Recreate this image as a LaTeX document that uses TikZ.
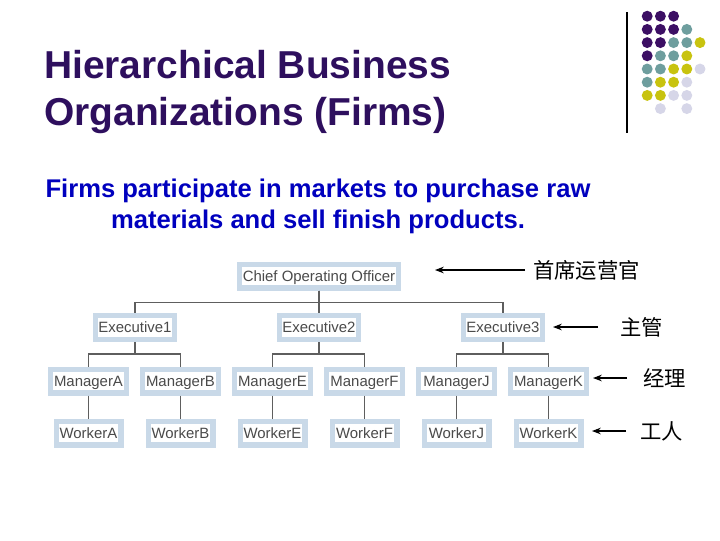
\documentclass[tikz,border=0pt]{standalone}
\usepackage{fontspec}
\setmainfont{Liberation Sans}
\newfontfamily\cjk{Noto Sans CJK SC}
\usetikzlibrary{arrows.meta,positioning}
\definecolor{boxblue}{HTML}{C9D9E8}
\definecolor{boxtext}{HTML}{4A4A4A}
\definecolor{linegray}{HTML}{5E5E5E}
\definecolor{bodyblue}{HTML}{0000BE}
\definecolor{titlepurple}{HTML}{2E0F5E}
\definecolor{dotP}{HTML}{3C0F64}
\definecolor{dotT}{HTML}{6E9E9E}
\definecolor{dotY}{HTML}{C8C30F}
\definecolor{dotL}{HTML}{D6D6E8}

\begin{document}
\begin{tikzpicture}[
    x=0.75pt, y=-0.75pt,
    >=Stealth,
    node distance = 17.25pt and 8.25pt,
    % --- node styles ---
    orgbox/.style = {rectangle, draw=boxblue, fill=white, line width=4pt,
                    text=boxtext, inner sep=0pt, align=center,
                    minimum height=17.75pt, text height=8.2pt, text depth=0.5pt,
                    font=\fontsize{11.2}{13}\selectfont},
    cooblock/.style = {orgbox, minimum width=119pt},
    execblock/.style = {orgbox, minimum width=59pt},
    mgrblock/.style = {orgbox, minimum width=56.75pt},
    wrkblock/.style = {orgbox, minimum width=48.5pt},
    conn/.style = {draw=linegray, line width=1pt},
    pointer/.style = {->, black, line width=0.8pt},
    rolelbl/.style = {inner sep=0pt, font=\cjk\fontsize{16}{18}\selectfont},
]
\useasboundingbox (0,0) rectangle (720,540);

%============ HEADING ============
\node (title) [anchor=north west, inner sep=0pt, align=left, text=titlepurple,
       font=\bfseries\fontsize{29.2}{35.25}\selectfont] at (44,50)
  {Hierarchical Business\\Organizations (Firms)};
\node (body) [anchor=north, inner sep=0pt, align=center, text=bodyblue,
       font=\bfseries\fontsize{19.2}{23.25}\selectfont] at (318,179)
  {Firms participate in markets to purchase raw\\materials and sell finish products.};

%============ CORNER DOTS ============
\draw[black, line width=0.8pt] (627,12) -- (627,133);
\foreach \c/\r/\col in {1/1/dotP,2/1/dotP,3/1/dotP,
    1/2/dotP,2/2/dotP,3/2/dotP,4/2/dotT,
    1/3/dotP,2/3/dotP,3/3/dotT,4/3/dotT,5/3/dotY,
    1/4/dotP,2/4/dotT,3/4/dotT,4/4/dotY,
    1/5/dotT,2/5/dotT,3/5/dotY,4/5/dotY,5/5/dotL,
    1/6/dotT,2/6/dotY,3/6/dotY,4/6/dotL,
    1/7/dotY,2/7/dotY,3/7/dotL,4/7/dotL,
    2/8/dotL,4/8/dotL}
  \fill[\col] ({634+13.2*\c},{3+13.2*\r}) circle (4.1pt);

%============ CHART ============
\node (coo) [cooblock] at (319,276) {Chief Operating Officer};

\node (exec2) [execblock] at (319,327.5) {Executive2};
\node (exec1) [execblock, left=75pt of exec2] {Executive1};
\node (exec3) [execblock, right=75pt of exec2] {Executive3};

% managers
\node (mgrA) [mgrblock] at (88.5,381) {ManagerA};
\node (mgrB) [mgrblock, right=of mgrA] {ManagerB};
\node (mgrE) [mgrblock, right=of mgrB] {ManagerE};
\node (mgrF) [mgrblock, right=of mgrE] {ManagerF};
\node (mgrJ) [mgrblock, right=of mgrF] {ManagerJ};
\node (mgrK) [mgrblock, right=of mgrJ] {ManagerK};

% workers
\foreach \w/\m in {A/A,B/B,E/E,F/F,J/J,K/K}
  \node (wrk\w) [wrkblock, below=of mgr\m] {Worker\w};

\foreach \e in {exec1,exec2,exec3}
  \draw[conn] (coo.south) -- ++(0,12) -| (\e.north);
\foreach \e/\m in {exec1/mgrA,exec1/mgrB,exec2/mgrE,exec2/mgrF,exec3/mgrJ,exec3/mgrK}
  \draw[conn] (\e.south) -- ++(0,12) -| (\m.north);
\foreach \w in {A,B,E,F,J,K}
  \draw[conn] (mgr\w) -- (wrk\w);

%============ ROLE LABELS ============
\node (lblcoo) [rolelbl, anchor=west] at (533,270) {首席运营官};
\node (lblexec) [rolelbl, anchor=west] at (620,327) {主管};
\node (lblmgr) [rolelbl, anchor=west] at (643,378) {经理};
\node (lblwrk) [rolelbl, anchor=west] at (640,431) {工人};

\coordinate (tipcoo) at (435,270);
\coordinate (tipexec) at (553,327);
\coordinate (tipmgr) at (593,378);
\coordinate (tipwrk) at (592,431);

\draw[pointer, shorten <=6pt] (lblcoo.west) -- (tipcoo);
\draw[pointer, shorten <=16.5pt] (lblexec.west) -- (tipexec);
\draw[pointer, shorten <=12pt] (lblmgr.west) -- (tipmgr);
\draw[pointer, shorten <=10.5pt] (lblwrk.west) -- (tipwrk);

\end{tikzpicture}
\end{document}
